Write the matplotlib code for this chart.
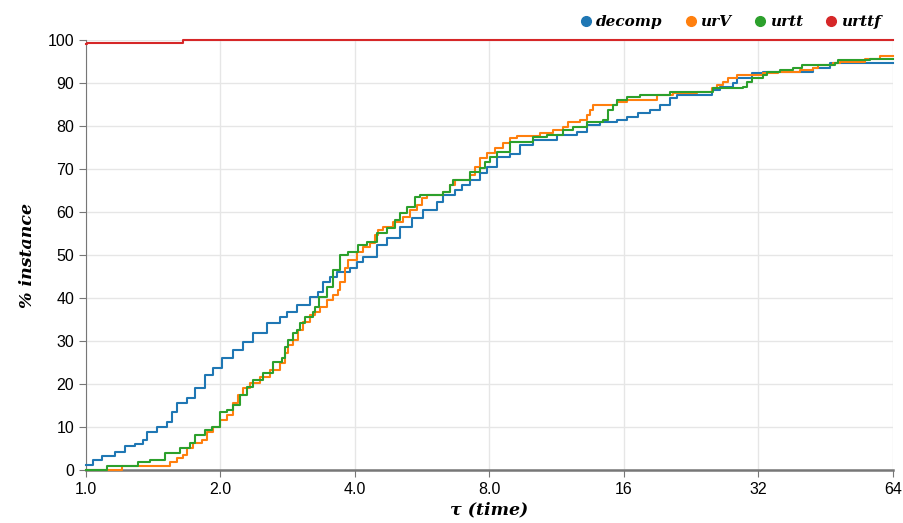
import matplotlib
matplotlib.use("Agg")
import matplotlib.pyplot as plt
from matplotlib.lines import Line2D

# performance profile: tau breakpoints and % of instances solved
decomp_tau = [1.0, 1.037, 1.086, 1.161, 1.223, 1.287, 1.341, 1.369, 1.442, 1.518, 1.558, 1.598,
              1.683, 1.754, 1.846, 1.924, 2.015, 2.133, 2.246, 2.365, 2.541, 2.717, 2.817, 2.966,
              3.172, 3.305, 3.392, 3.516, 3.645, 3.898, 4.041, 4.168, 4.480, 4.716, 5.043, 5.365,
              5.678, 6.103, 6.295, 6.697, 6.942, 7.234, 7.616, 7.896, 8.314, 8.890, 9.361, 10.009,
              11.326, 12.556, 13.221, 14.137, 15.431, 16.247, 17.195, 18.292, 19.259, 20.275,
              21.02, 25.18, 26.23, 28.05, 28.64, 30.94, 32.74, 42.35, 46.23, 64.0]
decomp_pct = [1.2, 2.3, 3.3, 4.2, 5.6, 6.0, 7.0, 8.8, 10.0, 11.2, 13.5, 15.6,
              16.7, 19.0, 22.0, 23.7, 26.0, 27.9, 29.8, 31.9, 34.2, 35.6, 36.7, 38.4,
              40.2, 41.4, 43.7, 45.0, 46.0, 47.0, 48.4, 49.5, 52.3, 53.9, 56.5, 58.6,
              60.5, 62.3, 64.0, 65.1, 66.3, 67.4, 69.0, 70.5, 72.8, 73.4, 75.5, 76.7,
              77.9, 78.6, 80.2, 80.9, 81.4, 82.1, 83.0, 83.7, 84.9, 86.5,
              87.2, 88.4, 89.0, 90.0, 91.2, 92.3, 92.6, 93.5, 94.6, 94.6]

urv_tau = [1.0, 1.204, 1.542, 1.598, 1.648, 1.683, 1.736, 1.818, 1.865, 1.924, 1.995, 2.068,
           2.133, 2.189, 2.246, 2.328, 2.451, 2.581, 2.717, 2.788, 2.832, 2.906, 2.981, 3.059,
           3.172, 3.254, 3.339, 3.462, 3.571, 3.664, 3.702, 3.798, 3.858, 4.041, 4.168, 4.321,
           4.434, 4.503, 4.620, 4.864, 5.122, 5.310, 5.505, 5.649, 5.796, 6.295, 6.526, 6.697,
           7.234, 7.422, 7.616, 7.896, 8.229, 8.575, 8.890, 9.216, 10.376, 11.095, 11.681, 11.986,
           12.751, 13.221, 13.426, 13.634, 15.431, 16.247, 18.962, 20.59, 23.30, 25.18, 25.83,
           26.64, 27.34, 28.64, 32.74, 35.37, 39.61, 42.35, 43.47, 46.95, 48.68, 55.37, 59.81, 64.0]
urv_pct = [0.0, 0.9, 1.8, 2.7, 3.5, 5.1, 6.3, 7.0, 8.8, 10.0, 11.6, 12.8,
           15.6, 17.4, 19.0, 20.2, 21.7, 23.3, 24.9, 27.2, 29.0, 30.2, 32.6, 34.4,
           36.0, 36.7, 38.0, 39.5, 40.7, 41.9, 43.7, 47.0, 48.8, 50.7, 51.9, 52.8,
           54.7, 55.8, 56.5, 57.7, 58.9, 60.5, 61.6, 63.3, 64.0, 64.7, 66.3, 67.4,
           68.6, 70.5, 72.6, 73.7, 74.9, 76.0, 77.2, 77.7, 78.4, 79.0, 79.8, 80.9,
           81.4, 82.6, 83.7, 84.9, 85.6, 86.0, 87.2, 87.7, 87.9, 88.8, 89.5,
           90.2, 91.2, 91.9, 92.3, 92.6, 93.0, 93.5, 94.2, 94.6, 94.9, 95.6, 96.3, 96.3]

urtt_tau = [1.0, 1.114, 1.307, 1.391, 1.502, 1.623, 1.709, 1.754, 1.846, 1.914, 1.995, 2.068,
            2.133, 2.211, 2.292, 2.365, 2.490, 2.621, 2.746, 2.788, 2.832, 2.906, 2.966, 3.012,
            3.091, 3.221, 3.254, 3.322, 3.462, 3.571, 3.702, 3.858, 4.062, 4.255, 4.480, 4.716,
            4.915, 5.043, 5.229, 5.449, 5.591, 6.295, 6.526, 6.627, 7.234, 7.616, 7.815, 8.019,
            8.314, 8.890, 10.009, 10.757, 11.681, 12.30, 13.221, 14.355, 14.731, 15.115, 15.431,
            16.247, 17.372, 20.275, 25.30, 29.53, 30.15, 30.94, 32.74, 33.42, 35.73, 38.21,
            40.03, 47.44, 48.18, 56.8, 64.0]
urtt_pct = [0.0, 0.9, 1.9, 2.3, 3.9, 5.1, 6.3, 8.1, 9.3, 10.0, 13.5, 14.0,
            15.1, 17.4, 19.3, 20.9, 22.6, 25.1, 26.0, 28.6, 30.2, 31.9, 32.6, 34.2,
            35.6, 36.7, 38.0, 40.2, 42.6, 46.5, 50.0, 50.7, 52.3, 53.0, 55.1, 56.3,
            58.1, 59.8, 61.2, 63.5, 64.0, 64.7, 66.3, 67.4, 69.3, 70.2, 71.6, 72.8,
            74.0, 76.3, 77.4, 77.9, 79.0, 79.8, 80.9, 81.4, 83.7, 84.9, 86.0,
            86.7, 87.2, 87.9, 88.8, 89.0, 90.2, 91.2, 91.9, 92.6, 93.0, 93.5,
            94.2, 94.6, 95.3, 95.6, 95.6]

urttf_tau = [1.0, 1.005, 1.65, 64.0]
urttf_pct = [99.1, 99.4, 100.0, 100.0]

names = ["decomp", "urV", "urtt", "urttf"]
colors = ["#1f77b4", "#ff7f0e", "#2ca02c", "#d62728"]
xticks = [1, 2, 4, 8, 16, 32, 64]
xticklabels = ["1.0", "2.0", "4.0", "8.0", "16", "32", "64"]

plt.rcParams['font.family'] = ['Liberation Sans', 'DejaVu Sans']
serif_bi = dict(family=['DejaVu Serif'], weight='bold', style='italic')

fig = plt.figure(figsize=(9.04, 5.23), dpi=100)
ax = fig.add_axes([0.0951, 0.1013, 0.8927, 0.8222])

series = [(decomp_tau, decomp_pct), (urv_tau, urv_pct), (urtt_tau, urtt_pct), (urttf_tau, urttf_pct)]
for (t, p), c in zip(series, colors):
    ax.step(t, p, where='post', color=c, lw=1.5, zorder=3, clip_on=False)

ax.set_xscale('log', base=2)
ax.set_xlim(1, 64)
ax.set_ylim(0, 100)
ax.set_xticks(xticks)
ax.set_xticklabels(xticklabels)
ax.minorticks_off()
ax.set_yticks(range(0, 101, 10))
ax.grid(True, color='#e6e6e6', lw=1)
ax.set_axisbelow(True)
for s in ['top', 'right']:
    ax.spines[s].set_visible(False)
ax.spines['left'].set_color('#777777')
ax.spines['bottom'].set_color('#777777')
ax.spines['bottom'].set_linewidth(1.8)
ax.tick_params(axis='both', colors='#777777', labelcolor='black', labelsize=11.5, length=5)

ax.set_xlabel('τ (time)', fontsize=12.5, labelpad=3, **serif_bi)
ax.set_ylabel('% instance', fontsize=12.5, labelpad=8, **serif_bi)

handles = [Line2D([], [], marker='o', color=c, ls='none', markersize=7) for c in colors]
leg = ax.legend(handles, names, loc='lower right', bbox_to_anchor=(0.998, 1.0), ncol=4,
                frameon=False, handlelength=1.0, handletextpad=0.15, columnspacing=1.35,
                borderaxespad=0.3, prop=dict(serif_bi, size=11))

fig.savefig('out.png', dpi=100)
